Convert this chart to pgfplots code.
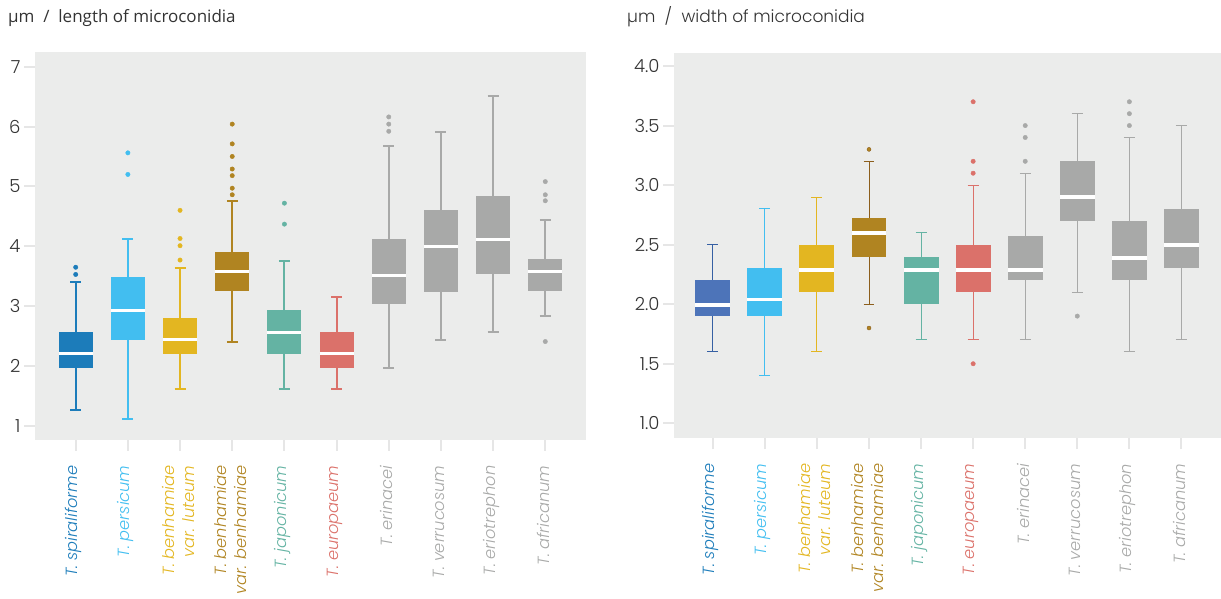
\documentclass[border=0pt]{standalone}
\usepackage{fontspec}
\setmainfont{Poppins}
\newfontfamily\popl{Poppins Light}[ItalicFont={Poppins Light Italic}]
\newfontfamily\opens{Open Sans}
\usepackage{pgfplots}
\usepgfplotslibrary{statistics}
\pgfplotsset{compat=1.18}
\definecolor{cA}{HTML}{1C7CBA}
\definecolor{cAr}{HTML}{4D74B9}
\definecolor{cArw}{HTML}{3660A3}
\definecolor{cB}{HTML}{42BEF0}
\definecolor{cC}{HTML}{E3B621}
\definecolor{cD}{HTML}{B08421}
\definecolor{cDw}{HTML}{8C5E1C}
\definecolor{cE}{HTML}{64B3A3}
\definecolor{cF}{HTML}{DB716A}
\definecolor{cG}{HTML}{A8A9A8}
\definecolor{bgc}{HTML}{EBECEB}
\definecolor{tickc}{HTML}{E6E6E6}
\definecolor{txt}{HTML}{333333}
\pgfplotsset{
  base/.style={
    scale only axis,
    axis background/.style={fill=bgc},
    axis line style={draw=none},
    xtick={0,...,9},
    tick align=outside,
    xtick pos=bottom, ytick pos=left,
    major tick length=11pt,
    tick style={draw=tickc, line width=2pt},
    /pgf/number format/assume math mode=true,
    boxplot/draw direction=y,
    y tick label style={font=\popl\fontsize{18}{20}\selectfont, text=txt},
    x tick label style={rotate=90, anchor=east, align=right, xshift=-11pt, yshift=2pt, font=\popl\fontsize{16.2}{20}\selectfont},
    xticklabels={
      {\color{cA}\itshape T. spiraliforme},
      {\color{cB}\itshape T. persicum},
      {\color{cC}\itshape T. benhamiae\\\color{cC}\itshape var. luteum},
      {\color{cD}\itshape T. benhamiae\\\color{cD}\itshape var. benhamiae},
      {\color{cE}\itshape T. japonicum},
      {\color{cF}\itshape T. europaeum},
      {\color{cG}\itshape T. erinacei},
      {\color{cG}\itshape T. verrucosum},
      {\color{cG}\itshape T. eriotrephon},
      {\color{cG}\itshape T. africanum}},
    clip=false,
  },
}
\newcommand{\bx}[7]{% pos, color, lw, q1, med, q3, uw ; outliers follow
  \addplot[boxplot prepared={draw position=#1, lower whisker=#3, lower quartile=#4, median=#5, upper quartile=#6, upper whisker=#7}, draw=#2, fill=#2, mark=*, mark size=2.2pt, mark options={draw=none, fill=#2}]}
\begin{document}
\begin{tikzpicture}
\useasboundingbox (0,0) rectangle (1221pt,599pt);
\node[anchor=base west, font=\opens\fontsize{17}{20}\selectfont, text=txt, inner sep=0pt] at (8pt,576pt) {µm \ / \ length of microconidia};
\node[anchor=base west, font=\popl\fontsize{17}{20}\selectfont, text=txt, inner sep=0pt] at (627pt,576pt) {µm \ / \ width of microconidia};
\begin{axis}[base, at={(35pt,159pt)}, anchor=south west, width=551pt, height=388pt,
  xmin=-0.78, xmax=9.78, ymin=0.766, ymax=7.244, ytick={1,...,7},
  boxplot/box extend=0.65, boxplot/whisker extend=0.21,
  boxplot/every box/.style={draw=none},
  boxplot/every whisker/.style={line width=2pt, fill=none},
  boxplot/every median/.style={draw=white, line width=3pt},
]
\bx{0}{cA}{1.26}{1.97}{2.21}{2.57}{3.41} coordinates {(0,3.65)(0,3.53)};
\bx{1}{cB}{1.12}{2.44}{2.93}{3.49}{4.13} coordinates {(0,5.56)(0,5.20)};
\bx{2}{cC}{1.61}{2.21}{2.45}{2.80}{3.64} coordinates {(0,4.60)(0,4.13)(0,4.01)(0,3.77)};
\bx{3}{cD}{2.41}{3.26}{3.58}{3.90}{4.75} coordinates {(0,6.04)(0,5.71)(0,5.50)(0,5.29)(0,5.18)(0,4.97)(0,4.86)};
\bx{4}{cE}{1.61}{2.21}{2.56}{2.94}{3.76} coordinates {(0,4.72)(0,4.37)};
\bx{5}{cF}{1.61}{1.97}{2.21}{2.57}{3.16} coordinates {};
\bx{6}{cG}{1.97}{3.04}{3.52}{4.12}{5.68} coordinates {(0,6.16)(0,6.04)(0,5.92)};
\bx{7}{cG}{2.44}{3.23}{4.00}{4.61}{5.91} coordinates {};
\bx{8}{cG}{2.57}{3.53}{4.12}{4.84}{6.51} coordinates {};
\bx{9}{cG}{2.84}{3.26}{3.58}{3.79}{4.44} coordinates {(0,5.08)(0,4.86)(0,4.76)(0,2.41)};
\end{axis}
\begin{axis}[base, at={(674pt,160.7pt)}, anchor=south west, width=547pt, height=385.6pt,
  xmin=-0.745, xmax=9.76, ymin=0.874, ymax=4.112, ytick={1,1.5,...,4},
  yticklabel style={/pgf/number format/.cd, fixed, fixed zerofill, precision=1},
  boxplot/box extend=0.67, boxplot/whisker extend=0.21,
  boxplot/every box/.style={draw=none},
  boxplot/every whisker/.style={line width=1pt, fill=none},
  boxplot/every median/.style={draw=white, line width=3.8pt},
]
\addplot[boxplot prepared={draw position=0, lower whisker=1.6, lower quartile=1.9, median=1.99, upper quartile=2.2, upper whisker=2.5}, draw=cArw, fill=cAr, mark=*, mark size=2pt, mark options={draw=none, fill=cAr}] coordinates {};
\bx{1}{cB}{1.4}{1.9}{2.04}{2.3}{2.8} coordinates {};
\bx{2}{cC}{1.6}{2.1}{2.29}{2.5}{2.9} coordinates {};
\addplot[boxplot prepared={draw position=3, lower whisker=2.0, lower quartile=2.4, median=2.6, upper quartile=2.72, upper whisker=3.2}, draw=cDw, fill=cD, mark=*, mark size=2pt, mark options={draw=none, fill=cD}] coordinates {(0,3.3)(0,1.8)};
\bx{4}{cE}{1.7}{2.0}{2.29}{2.4}{2.6} coordinates {};
\bx{5}{cF}{1.7}{2.1}{2.29}{2.5}{3.0} coordinates {(0,3.7)(0,3.2)(0,3.1)(0,1.5)};
\bx{6}{cG}{1.7}{2.2}{2.29}{2.57}{3.1} coordinates {(0,3.5)(0,3.4)(0,3.2)};
\bx{7}{cG}{2.1}{2.7}{2.9}{3.2}{3.6} coordinates {(0,1.9)};
\bx{8}{cG}{1.6}{2.2}{2.39}{2.7}{3.4} coordinates {(0,3.7)(0,3.6)(0,3.5)};
\bx{9}{cG}{1.7}{2.3}{2.5}{2.8}{3.5} coordinates {};
\end{axis}
\end{tikzpicture}
\end{document}
